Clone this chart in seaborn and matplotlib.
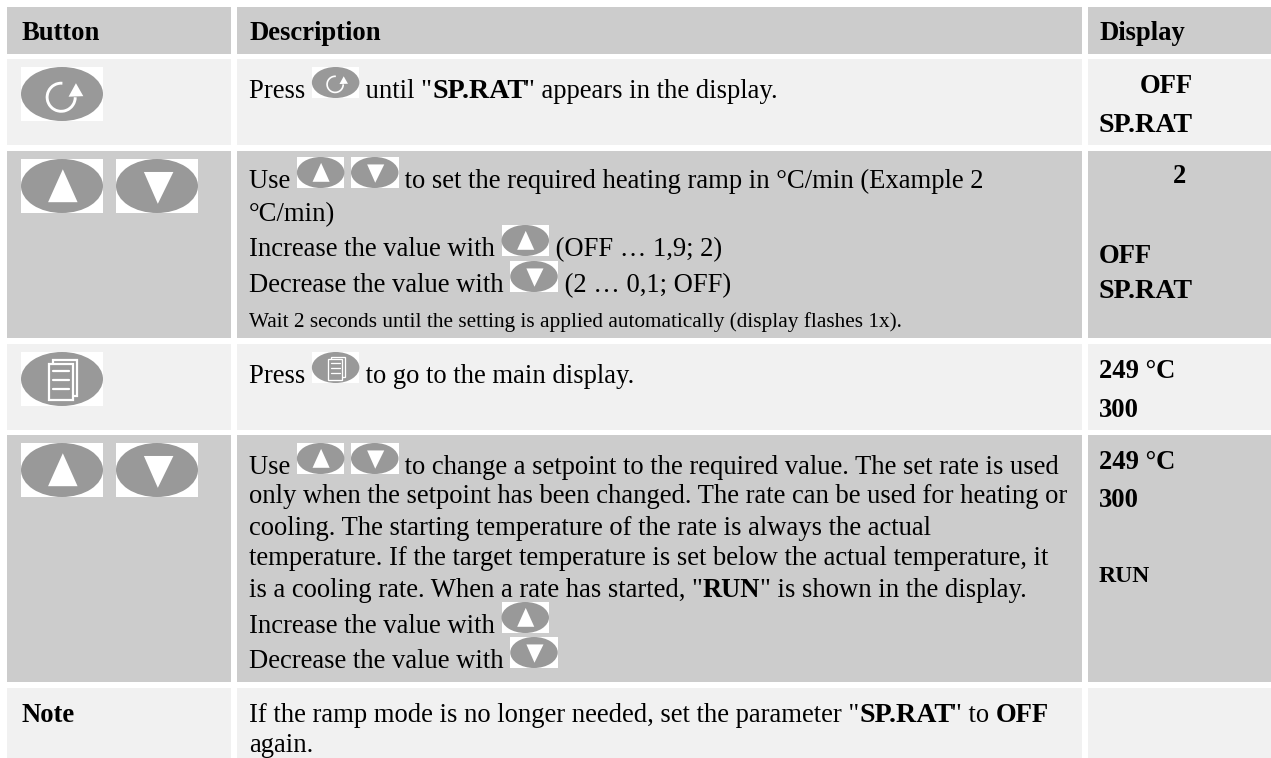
import numpy as np
import matplotlib
matplotlib.use("Agg")
import matplotlib.pyplot as plt
import seaborn as sns
from matplotlib.font_manager import FontProperties
from matplotlib.patches import Ellipse, Polygon, Rectangle, Arc

column_names = ["Button", "Description", "Display"]
row_shades = [0.8, 0.945, 0.8, 0.945, 0.8, 0.945]

row1_desc = [[("Press ", 0), "rot", (' until "', 0), ("SP.RAT", 1), ('" appears in the display.', 0)]]
row2_desc = [
    ["Use ", "up", " ", "down", " to set the required heating ramp in °C/min (Example 2"],
    ["°C/min)"],
    ["Increase the value with ", "up", " (OFF … 1,9; 2)"],
    ["Decrease the value with ", "down", " (2 … 0,1; OFF)"],
]
row2_small = "Wait 2 seconds until the setting is applied automatically (display flashes 1x)."
row3_desc = [["Press ", "doc", " to go to the main display."]]
row4_desc = [
    ["Use ", "up", " ", "down", " to change a setpoint to the required value. The set rate is used"],
    ["only when the setpoint has been changed. The rate can be used for heating or"],
    ["cooling. The starting temperature of the rate is always the actual"],
    ["temperature. If the target temperature is set below the actual temperature, it"],
    ['is a cooling rate. When a rate has started, "', ("RUN", 1), '" is shown in the display.'],
    ["Increase the value with ", "up"],
    ["Decrease the value with ", "down"],
]
note_label = "Note"
note_desc = [
    ['If the ramp mode is no longer needed, set the parameter "', ("SP.RAT", 1), '" to ', ("OFF", 1)],
    ["again."],
]
display_row1 = ["OFF", "SP.RAT"]
display_row2 = ["2", "OFF", "SP.RAT"]
display_row3 = ["249 °C", "300"]
display_row4 = ["249 °C", "300", "RUN"]

sns.set_theme(style="white")
plt.rcParams["font.family"] = ["Liberation Serif", "DejaVu Serif"]

W, H = 1271, 758
fig = plt.figure(figsize=(W / 100, H / 100), dpi=100)
ax = fig.add_axes([0, 0, 1, 1])

# background cells as a pixel grid, so the heatmap axes are pixel coordinates
col_spans = [(7, 231), (237, 1082), (1088, 1271)]
row_spans = [(7, 54), (59, 145), (151, 338), (344, 430), (435, 682), (688, 758)]
grid = np.full((H, W), np.nan)
for (y0, y1), shade in zip(row_spans, row_shades):
    for x0, x1 in col_spans:
        grid[y0:y1, x0:x1] = shade
sns.heatmap(grid, cmap="gray", vmin=0, vmax=1, cbar=False,
            xticklabels=False, yticklabels=False, ax=ax)
ax.set_axis_off()

renderer = fig.canvas.get_renderer()
ICON_GREY = "#999999"
FS = 19.15
FS_SMALL = 15.35
FS_RUN = 17
FS_SPRAT = 20.2


def text_width(s, fp):
    # a trailing dot keeps the trailing spaces in the measure
    w1 = renderer.get_text_width_height_descent(s + ".", fp, False)[0]
    w2 = renderer.get_text_width_height_descent(".", fp, False)[0]
    return w1 - w2


def button(x, y, w, h, kind):
    ax.add_patch(Rectangle((x, y), w, h, fc="white", ec="none", zorder=2))
    ax.add_patch(Ellipse((x + w / 2, y + h / 2), w, h, fc=ICON_GREY, ec="none", zorder=3))

    def pt(fx, fy):
        return (x + fx * w, y + fy * h)

    lw = w / 82 * 1.6
    if kind == "up":
        ax.add_patch(Polygon([pt(.33, .80), pt(.69, .80), pt(.51, .19)], fc="white", ec="none", zorder=4))
    elif kind == "down":
        ax.add_patch(Polygon([pt(.34, .24), pt(.70, .24), pt(.51, .83)], fc="white", ec="none", zorder=4))
    elif kind == "rot":
        c = pt(.49, .56)
        r = 2 * .26 * h
        ax.add_patch(Arc(c, r, r, theta1=0, theta2=275, ec="white", lw=lw * 1.3, zorder=4))
        ax.add_patch(Polygon([pt(.67, .30), pt(.58, .55), pt(.76, .54)], fc="white", ec="none", zorder=5))
    elif kind == "doc":
        ax.add_patch(Rectangle(pt(.394, .148), .293 * w, .667 * h, fc=ICON_GREY, ec="white", lw=lw, zorder=4))
        ax.add_patch(Rectangle(pt(.337, .222), .293 * w, .667 * h, fc=ICON_GREY, ec="white", lw=lw, zorder=5))
        for fy in [.346, .519, .691]:
            ax.plot([x + .394 * w, x + .585 * w], [y + fy * h] * 2, color="white", lw=lw, zorder=6)


def put_line(x, y, runs):
    # runs are plain strings, (string, bold) pairs or icon names
    for run in runs:
        if run in ("up", "down", "rot", "doc"):
            button(x, y - 31, 47.5, 31, run)
            x += 47.5
            continue
        s, bold = run if isinstance(run, tuple) else (run, 0)
        weight = "bold" if bold else "normal"
        # the reference has no kerning in SP.RAT, so it runs wider
        size = FS_SPRAT if s == "SP.RAT" else FS
        fp = FontProperties(family="Liberation Serif", size=size, weight=weight)
        ax.text(x, y, s, fontproperties=fp, color="black", va="baseline", ha="left", zorder=7)
        x += text_width(s, fp)


def bold_text(x, y, s, size=FS):
    ax.text(x, y, s, family="Liberation Serif", size=size, weight="bold",
            color="black", va="baseline", ha="left", zorder=7)


# header
for x, name in zip([22, 249, 1099], column_names):
    bold_text(x, 40, name)

# big buttons
button(21, 67, 82, 54, "rot")
button(21, 159, 82, 54, "up")
button(116, 159, 82, 54, "down")
button(21, 352, 82, 54, "doc")
button(21, 443, 82, 54, "up")
button(116, 443, 82, 54, "down")

# description column
for y, line in zip([98], row1_desc):
    put_line(249, y, line)
for y, line in zip([188, 221, 256, 292], row2_desc):
    put_line(249, y, line)
ax.text(249, 327, row2_small, family="Liberation Serif", size=FS_SMALL, color="black", va="baseline", zorder=7)
for y, line in zip([383], row3_desc):
    put_line(249, y, line)
for y, line in zip([474, 503, 535, 565, 597, 633, 668], row4_desc):
    put_line(249, y, line)
for y, line in zip([722, 752], note_desc):
    put_line(249, y, line)
bold_text(22, 722, note_label)

# display column
bold_text(1140, 93, display_row1[0])
bold_text(1099, 132, display_row1[1], size=FS_SPRAT)
bold_text(1173, 183, display_row2[0])
bold_text(1099, 263, display_row2[1])
bold_text(1099, 298, display_row2[2], size=FS_SPRAT)
bold_text(1099, 378, display_row3[0])
bold_text(1099, 417, display_row3[1])
bold_text(1099, 469, display_row4[0])
bold_text(1099, 507, display_row4[1])
bold_text(1099, 582, display_row4[2], size=FS_RUN)

fig.savefig("out.png", dpi=100)
